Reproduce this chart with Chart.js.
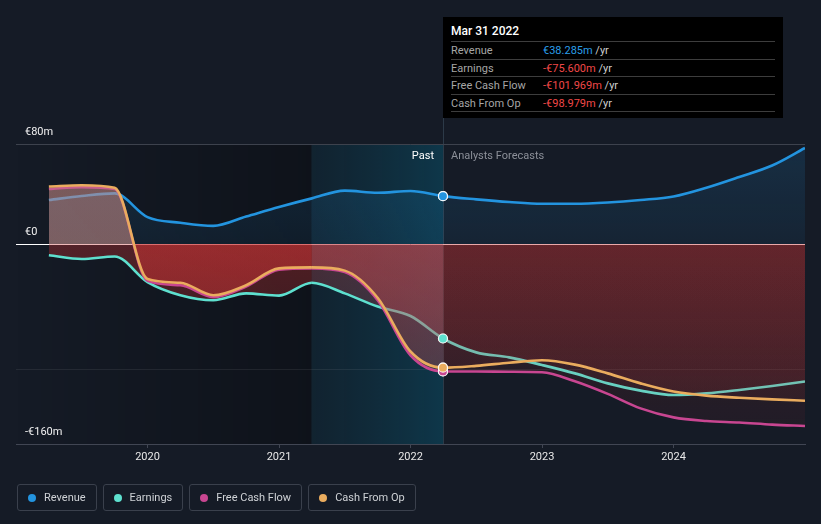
<!DOCTYPE html>
<html><head><meta charset="utf-8">
<script src="https://cdn.jsdelivr.net/npm/chart.js@4/dist/chart.umd.min.js"></script>
<style>
html,body{margin:0;padding:0;background:#151b26;width:821px;height:524px;overflow:hidden;font-family:Roboto,"Open Sans",sans-serif;}
#wrap{position:relative;width:821px;height:524px;}
#c{position:absolute;left:0;top:0;}
#tip{position:absolute;left:443px;top:17px;width:340px;height:101px;background:#000;}
#tip .t{position:absolute;left:8px;top:6px;font-size:12px;font-weight:500;color:#fff;line-height:16px;}
#tip .r{position:absolute;left:8px;width:324px;height:17px;border-top:1px solid #3d3d3d;font-size:11px;line-height:17px;color:#a6a6a6;}
#tip .r .v{position:absolute;left:92px;top:0;}
#tip .r .u{color:#cfcfcf;}
#tip .end{position:absolute;left:8px;width:324px;top:94px;border-top:1px solid #3d3d3d;}
#legend{position:absolute;left:17px;top:484px;display:flex;gap:6px;}
#legend .it{box-sizing:border-box;height:27px;border:1px solid #3a404c;border-radius:3px;display:flex;align-items:center;padding:0 10px 0 10px;font-size:11px;color:#cfd2d6;}
#legend .d{width:8px;height:8px;border-radius:50%;margin-right:8px;}
</style></head>
<body><div id="wrap"><canvas id="c" width="821" height="524"></canvas><div id="tip"></div><div id="legend"></div></div>
<script>
// ---- data ----
const pastDates = [2019.25, 2019.5, 2019.75, 2020.0, 2020.25, 2020.5, 2020.75, 2021.0, 2021.25, 2021.5, 2021.75, 2022.0, 2022.247];
const forecastDates = [2022.5, 2022.75, 2023.0, 2023.25, 2023.5, 2023.75, 2024.0, 2024.25, 2024.5, 2024.75, 2025.0];
const revenuePast = [35.2, 38.4, 40.5, 21.5, 17, 14.5, 22, 29.6, 36.5, 42.7, 41, 42.4, 38.285];
const revenueForecast = [35.7, 33.6, 32.2, 32.2, 33.2, 35.2, 38, 45, 53.6, 62.8, 76.8];
const earningsPast = [-9, -12, -10, -30.5, -41, -45, -39.5, -41.3, -31, -39.5, -50, -57.6, -75.6];
const earningsForecast = [-86.7, -90.7, -96.8, -103.5, -111.5, -117.3, -120.8, -119.5, -116.8, -113.6, -110];
const fcfPast = [44, 45.5, 44, -29.5, -33, -42.5, -34, -20.5, -19.5, -22.5, -45, -89, -101.969];
const fcfForecast = [-102, -102.2, -102.6, -109.8, -119.9, -131.5, -138.7, -141.6, -142.8, -144.5, -145.6];
const cfoPast = [46, 47, 45, -28, -31, -41, -33, -19.5, -18.7, -21.3, -43, -86, -98.979];
const cfoForecast = [-97.5, -95, -93, -96.5, -103.5, -111.5, -118, -121.3, -123, -124.3, -125.4];
const seriesNames = ['Revenue', 'Earnings', 'Free Cash Flow', 'Cash From Op'];
const seriesColors = ['#2394df', '#5ee0cf', '#c84691', '#eaac5e'];
const xTicks = [2020, 2021, 2022, 2023, 2024];
const yTicks = [-160, -100, 0, 80];
const yTickLabels = ['-€160m', '', '€0', '€80m'];
const tooltipTitle = 'Mar 31 2022';

// ---- helpers ----
const splitX = pastDates[pastDates.length - 1];
const hlStart = splitX - 1;
const pastLen = pastDates.length;
function mk(past, fc) {
  return pastDates.map((x, i) => ({x, y: past[i]})).concat(forecastDates.map((x, i) => ({x, y: fc[i]})));
}
const gradCache = {};
const redStyles = {
  p: {c: '205,52,52', top: 0.34, bot: 0.14},
  h: {c: '200,72,78', top: 0.3, bot: 0.12},
  f: {c: '205,52,52', top: 0.17, bot: 0.06}
};
function redGrad(chart, kind) {
  const a = chart.chartArea;
  if (!a) return 'rgba(0,0,0,0)';
  const key = kind + a.top + '_' + a.bottom;
  if (gradCache[key]) return gradCache[key];
  const s = redStyles[kind];
  const z = chart.scales.y.getPixelForValue(0);
  const zf = Math.min(1, Math.max(0, (z - a.top) / (a.bottom - a.top)));
  const g = chart.ctx.createLinearGradient(0, a.top, 0, a.bottom);
  g.addColorStop(0, 'rgba(200,140,135,0.34)');
  g.addColorStop(zf, 'rgba(200,140,135,0.34)');
  g.addColorStop(zf, 'rgba(' + s.c + ',' + s.top + ')');
  g.addColorStop(1, 'rgba(' + s.c + ',' + s.bot + ')');
  gradCache[key] = g;
  return g;
}
function segKind(ctx) {
  const x0 = ctx.p0.parsed.x;
  if (x0 >= splitX - 1e-6) return 'f';
  if (x0 >= hlStart - 0.01) return 'h';
  return 'p';
}
function blueGrad(ctx) {
  const chart = ctx.chart, a = chart.chartArea;
  if (!a) return 'rgba(0,0,0,0)';
  const key = 'b' + a.top + '_' + a.bottom;
  if (gradCache[key]) return gradCache[key];
  const z = chart.scales.y.getPixelForValue(0);
  const g = chart.ctx.createLinearGradient(0, a.top, 0, z);
  g.addColorStop(0, 'rgba(35,148,223,0.16)');
  g.addColorStop(1, 'rgba(35,148,223,0.08)');
  gradCache[key] = g;
  return g;
}
const redDataset = (label, data, color, order) => ({
  label, data, order,
  borderColor: color, borderWidth: 2.6,
  fill: 'origin',
  backgroundColor: (ctx) => redGrad(ctx.chart, 'p'),
  segment: {backgroundColor: (ctx) => redGrad(ctx.chart, segKind(ctx))},
  cubicInterpolationMode: 'monotone',
  pointRadius: (ctx) => ctx.dataIndex === pastLen - 1 ? 4.5 : 0,
  pointHoverRadius: 0,
  pointBackgroundColor: color, pointBorderColor: 'rgba(255,255,255,0.85)', pointBorderWidth: 1.2
});

const bgPlugin = {
  id: 'bgShade',
  beforeDraw(chart) {
    const {ctx, chartArea: a, scales: {x}} = chart;
    const xs = x.getPixelForValue(splitX), xh = x.getPixelForValue(hlStart);
    ctx.save();
    let g = ctx.createLinearGradient(a.left, 0, xh, 0);
    g.addColorStop(0, 'rgba(0,0,0,0)');
    g.addColorStop(1, 'rgba(0,0,0,0.3)');
    ctx.fillStyle = g;
    ctx.fillRect(a.left, a.top, xh - a.left, a.bottom - a.top);
    g = ctx.createLinearGradient(xh, 0, xs, 0);
    g.addColorStop(0, 'rgba(0,85,110,0.14)');
    g.addColorStop(1, 'rgba(0,115,150,0.32)');
    ctx.fillStyle = g;
    ctx.fillRect(xh, a.top, xs - xh, a.bottom - a.top);
    ctx.strokeStyle = '#2c3a48';
    ctx.lineWidth = 1;
    ctx.beginPath();
    ctx.moveTo(Math.round(xs) + 0.5, 118);
    ctx.lineTo(Math.round(xs) + 0.5, a.bottom);
    ctx.stroke();
    ctx.restore();
  },
  afterDatasetsDraw(chart) {
    // redraw the "today" markers above all fills
    const order = chart.getSortedVisibleDatasetMetas().slice().reverse();
    order.forEach(meta => {
      const el = meta.data[pastLen - 1];
      if (el) el.draw(chart.ctx, chart.chartArea);
    });
  },
  afterDraw(chart) {
    const {ctx, scales: {x}} = chart;
    const xs = x.getPixelForValue(splitX);
    ctx.save();
    ctx.font = '11px Roboto';
    ctx.textBaseline = 'middle';
    ctx.textAlign = 'right';
    ctx.fillStyle = '#ffffff';
    ctx.fillText('Past', xs - 9, 156);
    ctx.textAlign = 'left';
    ctx.fillStyle = '#8c9099';
    ctx.fillText('Analysts Forecasts', xs + 8, 156);
    ctx.restore();
  }
};

Chart.defaults.font.family = 'Roboto';
Chart.defaults.font.size = 11;

const chart = new Chart(document.getElementById('c'), {
  type: 'line',
  data: {
    datasets: [
      {
        label: seriesNames[0], data: mk(revenuePast, revenueForecast), order: 4,
        borderColor: seriesColors[0], borderWidth: 2.6,
        fill: 'origin', backgroundColor: blueGrad,
        cubicInterpolationMode: 'monotone',
        pointRadius: (ctx) => ctx.dataIndex === pastLen - 1 ? 4.5 : 0,
        pointHoverRadius: 0,
        pointBackgroundColor: seriesColors[0], pointBorderColor: 'rgba(255,255,255,0.9)', pointBorderWidth: 1.2
      },
      redDataset(seriesNames[1], mk(earningsPast, earningsForecast), seriesColors[1], 3),
      redDataset(seriesNames[2], mk(fcfPast, fcfForecast), seriesColors[2], 2),
      redDataset(seriesNames[3], mk(cfoPast, cfoForecast), seriesColors[3], 1)
    ]
  },
  options: {
    responsive: false,
    animation: false,
    events: [],
    layout: {padding: {top: 144, left: 16, right: 16, bottom: 56.8}},
    plugins: {legend: {display: false}, tooltip: {enabled: false}},
    scales: {
      x: {
        type: 'linear', min: 2019, max: 2025,
        afterBuildTicks: (s) => { s.ticks = xTicks.map(v => ({value: v})); },
        ticks: {color: '#e8e8e8', padding: 3, maxRotation: 0, callback: (v) => String(v), font: {size: 11}},
        grid: {drawOnChartArea: false, drawTicks: true, tickLength: 4, color: '#414653'},
        border: {color: '#414653', width: 1}
      },
      y: {
        min: -160, max: 80,
        afterBuildTicks: (s) => { s.ticks = yTicks.map(v => ({value: v})); },
        afterFit: (s) => { s.width = 0; },
        ticks: {mirror: true, padding: 9, labelOffset: -12, color: '#f0f0f0', font: {size: 11},
          callback: (v) => { const i = yTicks.indexOf(v); return i >= 0 ? yTickLabels[i] : ''; }},
        grid: {drawTicks: false, lineWidth: 1,
          color: (c) => c.tick.value === 0 ? '#ffffff' : c.tick.value === 80 ? '#3d424d' : c.tick.value === -100 ? 'rgba(255,255,255,0.07)' : 'rgba(0,0,0,0)'},
        border: {display: false}
      }
    }
  },
  plugins: [bgPlugin]
});

// ---- tooltip box ----
const fmt = (v) => (v < 0 ? '-€' : '€') + Math.abs(v).toFixed(3) + 'm';
const lastVals = [revenuePast[pastLen - 1], earningsPast[pastLen - 1], fcfPast[pastLen - 1], cfoPast[pastLen - 1]];
let html = '<div class="t">' + tooltipTitle + '</div>';
seriesNames.forEach((n, i) => {
  const v = lastVals[i];
  html += '<div class="r" style="top:' + (24 + i * 17.5) + 'px">' + n +
    '<span class="v"><span style="color:' + (v < 0 ? '#f04848' : '#2a9ee8') + '">' + fmt(v) + '</span><span class="u"> /yr</span></span></div>';
});
html += '<div class="end"></div>';
document.getElementById('tip').innerHTML = html;

// ---- legend ----
document.getElementById('legend').innerHTML = seriesNames.map((n, i) =>
  '<div class="it"><span class="d" style="background:' + seriesColors[i] + '"></span>' + n + '</div>').join('');
</script></body></html>
